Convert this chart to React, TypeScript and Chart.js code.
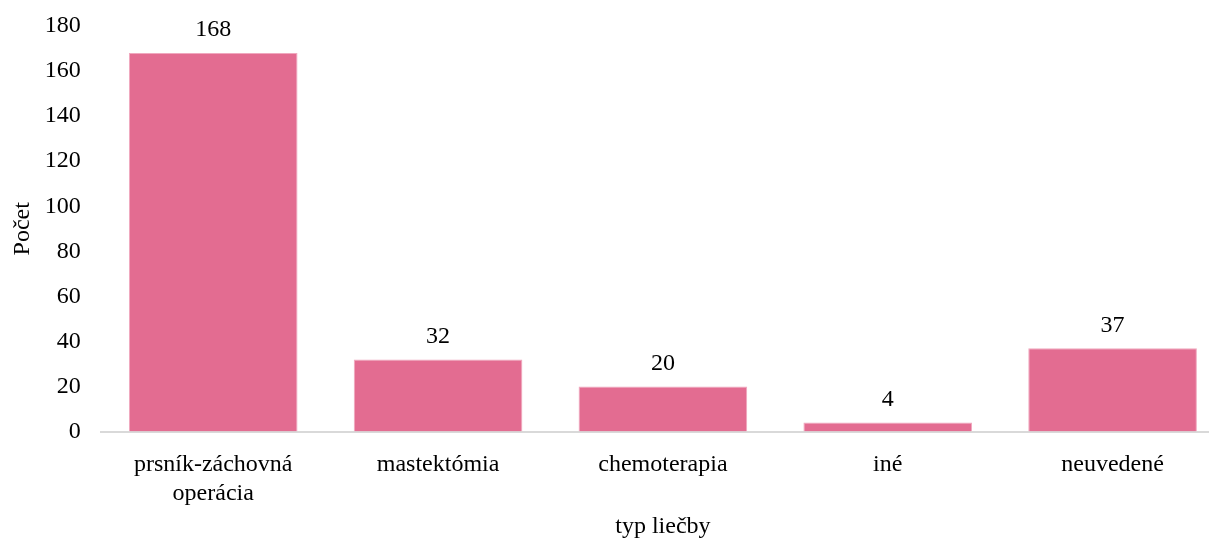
import React, { useEffect, useRef } from "react";
import { Chart, registerables } from "chart.js";

Chart.register(...registerables);

const categories: (string | string[])[] = [
  ["prsník-záchovná", "operácia"],
  "mastektómia",
  "chemoterapia",
  "iné",
  "neuvedené",
];
const values: number[] = [168, 32, 20, 4, 37];
const yTicks = { min: 0, max: 180, step: 20 };
const yTitle = "Počet";
const xTitle = "typ liečby";

const FONT = "'Liberation Serif', 'Times New Roman', serif";
const FS = 24;

const valueLabels = {
  id: "valueLabels",
  afterDatasetsDraw(chart: any) {
    const ctx = chart.ctx;
    const meta = chart.getDatasetMeta(0);
    ctx.save();
    ctx.font = `${FS}px ${FONT}`;
    ctx.fillStyle = "#000";
    ctx.textAlign = "center";
    ctx.textBaseline = "middle";
    meta.data.forEach((bar: any, i: number) => {
      ctx.fillText(String(values[i]), bar.x, bar.y - 23);
    });
    ctx.restore();
  },
};

export default function App() {
  const ref = useRef<HTMLCanvasElement | null>(null);
  useEffect(() => {
    if (!ref.current) return;
    const chart = new Chart(ref.current, {
      type: "bar",
      data: {
        labels: categories,
        datasets: [
          {
            data: values,
            backgroundColor: "#E36C91",
            borderColor: "#F0A8BE",
            borderWidth: 1,
            barPercentage: 0.75,
            categoryPercentage: 1,
          },
        ],
      },
      options: {
        animation: false,
        responsive: false,
        maintainAspectRatio: false,
        layout: { padding: { top: 0, left: 6, right: 0, bottom: 0 } },
        plugins: {
          legend: { display: false },
          tooltip: { enabled: false },
        },
        scales: {
          x: {
            grid: { display: false, drawTicks: false },
            border: { display: true, color: "#D9D9D9", width: 2 },
            ticks: {
              color: "#000",
              font: { family: FONT, size: FS },
              padding: 19,
              maxRotation: 0,
              autoSkip: false,
            },
            title: {
              display: true,
              text: xTitle,
              color: "#000",
              font: { family: FONT, size: FS },
              padding: { top: -15, bottom: -1 },
            },
          },
          y: {
            min: yTicks.min,
            max: yTicks.max,
            grid: { display: false, drawTicks: false },
            border: { display: false },
            ticks: {
              stepSize: yTicks.step,
              color: "#000",
              font: { family: FONT, size: FS, lineHeight: 0.5 },
              padding: 20,
            },
            title: {
              display: true,
              text: yTitle,
              color: "#000",
              font: { family: FONT, size: FS },
              padding: { top: 2, bottom: -12 },
            },
          },
        },
      },
      plugins: [valueLabels],
    });
    return () => chart.destroy();
  }, []);
  return (
    <div
      style={{
        position: "absolute",
        left: 0,
        top: 0,
        width: 1209,
        height: 540,
        overflow: "hidden",
        background: "#fff",
      }}
    >
      <canvas ref={ref} width={1225} height={540} style={{ width: 1225, height: 540, display: "block" }} />
    </div>
  );
}
